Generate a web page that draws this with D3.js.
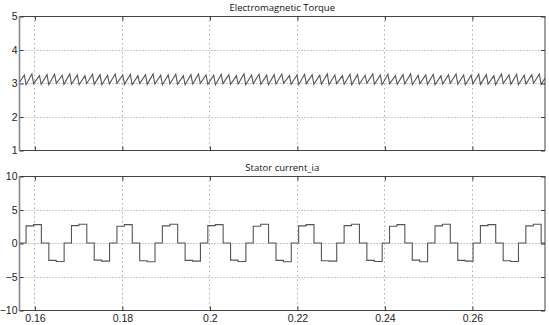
<!DOCTYPE html>
<html>
<head>
<meta charset="utf-8">
<script src="https://cdn.jsdelivr.net/npm/d3@7"></script>
<style>
  body { margin: 0; background: #fff; }
  svg { display: block; }
</style>
</head>
<body>
<div id="chart"></div>
<script>
// x axis
var timeTicks = [0.16, 0.18, 0.2, 0.22, 0.24, 0.26];
var timeRange = [0.1566, 0.2767];

// top panel: electromagnetic torque (sawtooth ripple around 3)
var torqueTicks = [1, 2, 3, 4, 5];
var torqueLowT = [
    0.15637, 0.15810, 0.15983, 0.16156, 0.16329, 0.16503, 0.16676, 0.16849, 0.17022, 0.17195,
    0.17368, 0.17541, 0.17714, 0.17887, 0.18060, 0.18234, 0.18407, 0.18580, 0.18753, 0.18926,
    0.19099, 0.19272, 0.19445, 0.19618, 0.19791, 0.19965, 0.20138, 0.20311, 0.20484, 0.20657,
    0.20830, 0.21003, 0.21176, 0.21349, 0.21522, 0.21696, 0.21869, 0.22042, 0.22215, 0.22388,
    0.22561, 0.22734, 0.22907, 0.23080, 0.23253, 0.23427, 0.23600, 0.23773, 0.23946, 0.24119,
    0.24292, 0.24465, 0.24638, 0.24811, 0.24984, 0.25158, 0.25331, 0.25504, 0.25677, 0.25850,
    0.26023, 0.26196, 0.26369, 0.26542, 0.26715, 0.26889, 0.27062, 0.27235, 0.27408, 0.27581,
    0.27754];
var torqueLowV = [
    2.97, 2.95, 2.98, 2.96, 2.95, 2.99, 2.96, 2.97, 2.95, 2.98,
    2.96, 2.95, 2.97, 2.99, 2.96, 2.95, 2.98, 2.96, 2.97, 2.95,
    2.98, 2.96, 2.95, 2.97, 2.99, 2.96, 2.95, 2.98, 2.96, 2.97,
    2.95, 2.98, 2.96, 2.95, 2.97, 2.99, 2.96, 2.95, 2.98, 2.96,
    2.97, 2.95, 2.98, 2.96, 2.95, 2.97, 2.99, 2.96, 2.95, 2.98,
    2.96, 2.97, 2.95, 2.98, 2.96, 2.95, 2.97, 2.99, 2.96, 2.95,
    2.98, 2.96, 2.97, 2.95, 2.98, 2.96, 2.95, 2.97, 2.99, 2.96,
    2.95];
var torqueHighT = [
    0.15770, 0.15943, 0.16116, 0.16289, 0.16462, 0.16636, 0.16809, 0.16982, 0.17155, 0.17328,
    0.17501, 0.17674, 0.17847, 0.18020, 0.18193, 0.18367, 0.18540, 0.18713, 0.18886, 0.19059,
    0.19232, 0.19405, 0.19578, 0.19751, 0.19924, 0.20098, 0.20271, 0.20444, 0.20617, 0.20790,
    0.20963, 0.21136, 0.21309, 0.21482, 0.21655, 0.21829, 0.22002, 0.22175, 0.22348, 0.22521,
    0.22694, 0.22867, 0.23040, 0.23213, 0.23386, 0.23560, 0.23733, 0.23906, 0.24079, 0.24252,
    0.24425, 0.24598, 0.24771, 0.24944, 0.25117, 0.25291, 0.25464, 0.25637, 0.25810, 0.25983,
    0.26156, 0.26329, 0.26502, 0.26675, 0.26848, 0.27022, 0.27195, 0.27368, 0.27541, 0.27714];
var torqueHighV = [
    3.24, 3.27, 3.22, 3.25, 3.26, 3.23, 3.27, 3.24, 3.22, 3.26,
    3.25, 3.23, 3.27, 3.24, 3.26, 3.22, 3.25, 3.27, 3.23, 3.24,
    3.26, 3.22, 3.25, 3.27, 3.24, 3.23, 3.26, 3.25, 3.22, 3.27,
    3.24, 3.26, 3.23, 3.25, 3.27, 3.22, 3.24, 3.26, 3.25, 3.23,
    3.27, 3.24, 3.22, 3.26, 3.25, 3.23, 3.27, 3.24, 3.26, 3.22,
    3.25, 3.27, 3.23, 3.24, 3.26, 3.22, 3.25, 3.27, 3.24, 3.23,
    3.26, 3.25, 3.22, 3.27, 3.24, 3.26, 3.23, 3.25, 3.27, 3.22];

// bottom panel: stator current ia (six-step waveform), step vertices
var currentTicks = [-10, -5, 0, 5, 10];
var iaT = [0.1566,
    0.15810, 0.15980, 0.16160, 0.16330, 0.16500, 0.16680,
    0.16848, 0.17018, 0.17198, 0.17368, 0.17538, 0.17718,
    0.17887, 0.18057, 0.18237, 0.18407, 0.18577, 0.18757,
    0.18925, 0.19095, 0.19275, 0.19445, 0.19615, 0.19795,
    0.19964, 0.20134, 0.20314, 0.20484, 0.20654, 0.20834,
    0.21002, 0.21172, 0.21352, 0.21522, 0.21692, 0.21872,
    0.22040, 0.22210, 0.22390, 0.22560, 0.22730, 0.22910,
    0.23079, 0.23249, 0.23429, 0.23599, 0.23769, 0.23949,
    0.24117, 0.24287, 0.24467, 0.24637, 0.24807, 0.24987,
    0.25156, 0.25326, 0.25506, 0.25676, 0.25846, 0.26026,
    0.26194, 0.26364, 0.26544, 0.26714, 0.26884, 0.27064,
    0.27232, 0.27402, 0.27582, 0.2767];
var iaV = [0,
    2.55, 2.75, 0, -2.6, -2.75, 0,
    2.6, 2.8, 0, -2.55, -2.7, 0,
    2.5, 2.75, 0, -2.65, -2.8, 0,
    2.55, 2.8, 0, -2.6, -2.7, 0,
    2.6, 2.75, 0, -2.55, -2.75, 0,
    2.5, 2.8, 0, -2.6, -2.8, 0,
    2.55, 2.75, 0, -2.65, -2.7, 0,
    2.6, 2.8, 0, -2.6, -2.75, 0,
    2.5, 2.75, 0, -2.55, -2.8, 0,
    2.55, 2.8, 0, -2.6, -2.7, 0,
    2.6, 2.75, 0, -2.65, -2.75, 0,
    2.55, 2.8, 0, 0];

var W = 549, H = 325;
var svg = d3.select('#chart').append('svg')
    .attr('width', W)
    .attr('height', H);

var x = d3.scaleLinear().domain(timeRange).range([19.5, 545]);

function drawPanel(id, top, bottom, yDomain, yTicks, title, data, curve, showX) {
    var y = d3.scaleLinear().domain(yDomain).range([bottom, top]);
    var g = svg.append('g').attr('id', id);

    g.append('clipPath').attr('id', id + '-clip')
        .append('rect')
        .attr('x', x.range()[0]).attr('y', top)
        .attr('width', x.range()[1] - x.range()[0])
        .attr('height', bottom - top);

    // grid
    g.selectAll('.hgrid').data(yTicks).enter().append('line')
        .attr('x1', x.range()[0]).attr('x2', x.range()[1])
        .attr('y1', function (d) { return Math.round(y(d)) + 0.5; })
        .attr('y2', function (d) { return Math.round(y(d)) + 0.5; })
        .attr('stroke', '#666').attr('stroke-width', 0.7)
        .attr('stroke-dasharray', '1,2');
    g.selectAll('.vgrid').data(timeTicks).enter().append('line')
        .attr('y1', top).attr('y2', bottom)
        .attr('x1', function (d) { return Math.round(x(d)) + 0.5; })
        .attr('x2', function (d) { return Math.round(x(d)) + 0.5; })
        .attr('stroke', '#999').attr('stroke-width', 0.8)
        .attr('stroke-dasharray', '1.5,3');

    // signal
    var line = d3.line()
        .x(function (d) { return x(d[0]); })
        .y(function (d) { return y(d[1]); })
        .curve(curve);
    g.append('path')
        .datum(data)
        .attr('clip-path', 'url(#' + id + '-clip)')
        .attr('fill', 'none')
        .attr('stroke', '#555')
        .attr('stroke-width', 1.1)
        .attr('d', line);

    // frame
    g.append('rect')
        .attr('x', x.range()[0]).attr('y', top + 0.5)
        .attr('width', x.range()[1] - x.range()[0])
        .attr('height', bottom - top)
        .attr('fill', 'none')
        .attr('stroke', '#444').attr('stroke-width', 1);

    // axes with inward ticks (labels only where needed)
    var yl = g.append('g').attr('transform', 'translate(' + x.range()[0] + ',0.5)')
        .call(d3.axisLeft(y).tickValues(yTicks).tickSize(-4).tickPadding(2).tickFormat(d3.format('d')));
    var yr = g.append('g').attr('transform', 'translate(' + x.range()[1] + ',0.5)')
        .call(d3.axisRight(y).tickValues(yTicks).tickSize(-4).tickFormat(''));
    var xb = g.append('g').attr('transform', 'translate(0.5,' + (bottom + 0.5) + ')')
        .call(d3.axisBottom(x).tickValues(timeTicks).tickSize(-4).tickPadding(4)
            .tickFormat(showX ? d3.format('') : ''));
    var xt = g.append('g').attr('transform', 'translate(0.5,' + (top + 0.5) + ')')
        .call(d3.axisTop(x).tickValues(timeTicks).tickSize(-4).tickFormat(''));
    [yl, yr, xb, xt].forEach(function (a) {
        a.select('.domain').remove();
        a.selectAll('.tick line').attr('stroke', '#333');
        a.selectAll('text')
            .attr('fill', '#222')
            .style('font-family', 'Liberation Sans, Arial, sans-serif')
            .style('font-size', '10.5px');
    });
    g.append('line')
        .attr('x1', x.range()[0]).attr('x2', x.range()[0])
        .attr('y1', top).attr('y2', bottom + 1)
        .attr('stroke', '#888').attr('stroke-width', 1.6);

    g.append('text')
        .attr('x', (x.range()[0] + x.range()[1]) / 2)
        .attr('y', top - 5)
        .attr('text-anchor', 'middle')
        .style('font-family', 'Open Sans, sans-serif')
        .style('font-size', '9.5px')
        .attr('fill', '#111')
        .text(title);
}

// build vertex lists from the arrays
var torqueData = [];
torqueLowT.forEach(function (t, i) {
    torqueData.push([t, torqueLowV[i]]);
    if (i < torqueHighT.length) torqueData.push([torqueHighT[i], torqueHighV[i]]);
});
var currentData = iaT.map(function (t, i) { return [t, iaV[i]]; });

drawPanel('torque', 16, 150, [1, 5], torqueTicks, 'Electromagnetic Torque', torqueData, d3.curveLinear, false);
drawPanel('current', 176, 310, [-10, 10], currentTicks, 'Stator current_ia', currentData, d3.curveStepAfter, true);
</script>
</body>
</html>
